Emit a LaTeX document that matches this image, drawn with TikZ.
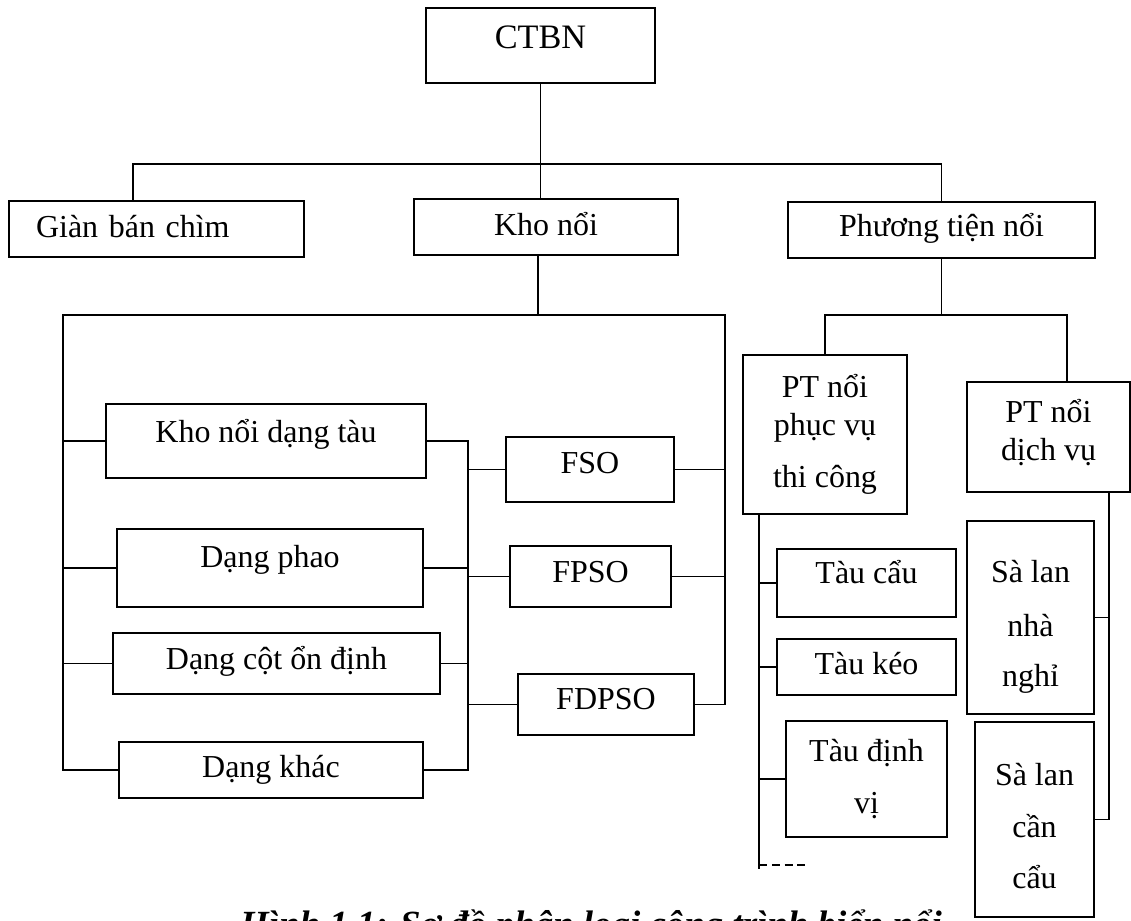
\documentclass[tikz,border=0pt]{standalone}
\usepackage{fontspec}
\setmainfont{Liberation Serif}
\usepackage{xcolor}

\begin{document}
\begin{tikzpicture}[x=0.02cm, y=-0.02cm, line width=1.1pt,
  box/.style={draw, inner sep=0pt, align=center, font=\fontsize{18.2}{21.6}\selectfont},
  lift/.style={text height=12pt, text depth=#1}]
  \useasboundingbox (0,0) rectangle (1131,920);

  % Top levels
  \node[box, lift=9.6pt, font=\fontsize{19.5}{23}\selectfont, text height=12.9pt,
    minimum width=4.58cm, minimum height=1.5cm] (ctbn) at (540.5,45.5) {CTBN};
  \node[box, lift=2.3pt, align=left, text width=4.82cm, minimum width=5.9cm, minimum height=1.12cm]
    (gbc) at (156.5,229) {Giàn bán chìm};
  \node[box, lift=2.3pt, minimum width=5.28cm, minimum height=1.12cm] (kn) at (546,227) {Kho nổi};
  \node[box, lift=4.5pt, minimum width=6.14cm, minimum height=1.12cm] (ptn) at (941.5,230) {Phương tiện nổi};

  % Kho noi
  \node[box, lift=10.2pt, minimum width=6.4cm, minimum height=1.48cm] (kndt) at (266,441) {Kho nổi dạng tàu};
  \node[box, lift=12.5pt, minimum width=6.12cm, minimum height=1.56cm] (dp) at (270,568) {Dạng phao};
  \node[box, lift=5.1pt, minimum width=6.54cm, minimum height=1.22cm] (dc) at (276.5,663.5) {Dạng cột ổn định};
  \node[box, lift=3.4pt, minimum width=6.08cm, minimum height=1.12cm] (dk) at (271,770) {Dạng khác};
  \node[box, lift=7.4pt, minimum width=3.36cm, minimum height=1.3cm] (fso) at (590,469.5) {FSO};
  \node[box, lift=5.1pt, minimum width=3.22cm, minimum height=1.22cm] (fpso) at (590.5,576.5) {FPSO};
  \node[box, lift=6.2pt, minimum width=3.52cm, minimum height=1.22cm] (fdpso) at (606,704.5) {FDPSO};

  % Phuong tien noi
  \node[box, minimum width=3.28cm, minimum height=3.18cm] (ptc) at (825,434.5)
    {PT nổi\\ phục vụ\\[7.9pt] thi công};
  \node[box, text height=29.8pt, text depth=3.5pt, minimum width=3.26cm, minimum height=2.2cm]
    (ptd) at (1048.5,437) {PT nổi\\ dịch vụ};
  \node[box, lift=11.3pt, minimum width=3.58cm, minimum height=1.36cm] (tc) at (866.5,583) {Tàu cẩu};
  \node[box, lift=3.4pt, minimum width=3.58cm, minimum height=1.12cm] (tk) at (866.5,667) {Tàu kéo};
  \node[box, minimum width=3.22cm, minimum height=2.32cm] (tdv) at (866.5,779) {Tàu định\\[7.9pt] vị};
  \node[box, text height=82.4pt, text depth=3.8pt, minimum width=2.54cm, minimum height=3.86cm]
    (sln) at (1030.5,617.5) {Sà lan\\[9pt] nhà\\[6.9pt] nghỉ};
  \node[box, text height=78.9pt, text depth=0pt, minimum width=2.38cm, minimum height=3.9cm]
    (slc) at (1034.5,819.5) {Sà lan\\[8.4pt] cần\\[7.4pt] cẩu};

  % Connectors
  \coordinate (kl) at (63,315);
  \coordinate (kr) at (725,315);
  \coordinate (kbus) at (538,315);
  \coordinate (mid) at (468,441);
  \coordinate (pl) at (825,315);
  \coordinate (pr) at (1067,315);
  \coordinate (pend) at (759,869);
  \coordinate (dash) at (759,865);
  \coordinate (sr) at (1109,492);

  \draw (ctbn.south) -- (kn.north -| ctbn.south);
  \draw (gbc.north -| 133,0) |- (ctbn.south |- 0,164) -| (ptn.north);

  \draw (kn.south -| kbus) -- (kbus);
  \draw (dk.west) -| (kl) -- (kr) |- (fdpso.east);
  \foreach \n in {kndt,dp,dc} \draw (\n.west) -- (\n.west -| kl);
  \foreach \n in {fso,fpso} \draw (\n.east) -- (\n.east -| kr);
  \draw (kndt.east) -| (dk.east -| mid) -- (dk.east);
  \foreach \n in {dp,dc} \draw (\n.east) -- (\n.east -| mid);
  \foreach \n in {fso,fpso,fdpso} \draw (\n.west) -- (\n.west -| mid);

  \draw (ptn.south) -- (ptn.south |- pl);
  \draw (ptc.north) |- (pr) -- (ptd.north -| pr);
  \draw (ptc.south -| pend) -- (pend);
  \draw[dash pattern=on 4.5pt off 2.8pt] (dash) -- ++(48,0);
  \foreach \n in {tc,tk,tdv} \draw (\n.west) -- (\n.west -| pend);
  \draw (ptd.south -| sr) |- (slc.east);
  \draw (sln.east) -- (sln.east -| sr);

  % Caption
  \node[font=\fontsize{21}{25}\selectfont\bfseries\itshape, anchor=base] (cap) at (591,936)
    {Hình 1.1: Sơ đồ phân loại công trình biển nổi};
\end{tikzpicture}
\end{document}
